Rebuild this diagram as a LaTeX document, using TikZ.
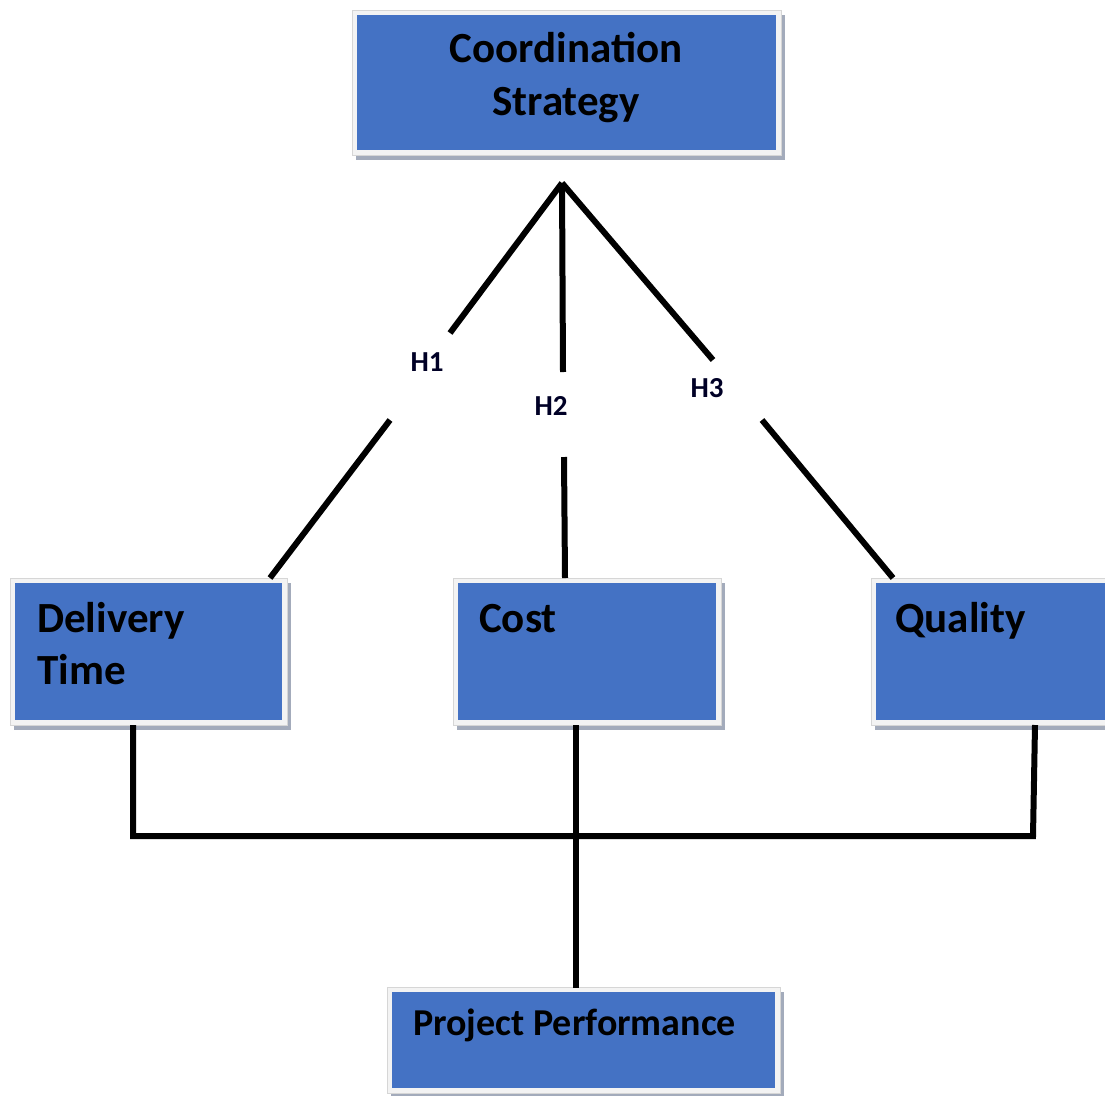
\documentclass[tikz,border=0pt]{standalone}
\usepackage{fontspec}
\setmainfont{Carlito}
\definecolor{boxblue}{HTML}{4472C4}
\definecolor{shadowgrey}{HTML}{A3ABBB}
\definecolor{framegrey}{HTML}{F3F3F3}
\definecolor{frameline}{HTML}{D6D6D6}
\newcommand\diagbox[5]{%
  \fill[shadowgrey] ({#2-5+4},{#3-5+5}) rectangle ({#4+5+4},{#5+5+5});
  \filldraw[fill=framegrey, draw=frameline, line width=1pt] ({#2-5},{#3-5}) rectangle ({#4+5},{#5+5});
  \node[bluebox, minimum width={(#4-#2)*1pt}, minimum height={(#5-#3)*1pt}] (#1) at ({(#2+#4)/2},{(#3+#5)/2}) {};
}
\begin{document}
\begin{tikzpicture}[x=1pt,y=-1pt,
  bluebox/.style={rectangle, fill=boxblue, draw=none, inner sep=0pt},
  bigtext/.style={font=\bfseries\fontsize{43}{43}\selectfont, inner sep=0pt},
  midtext/.style={font=\bfseries\fontsize{38}{38}\selectfont, inner sep=0pt},
  htext/.style={font=\bfseries\fontsize{29}{29}\selectfont, inner sep=0pt, text=black!85!blue},
  conn/.style={draw=black, line width=6pt}]
\useasboundingbox (0,0) rectangle (1105,1095);
\fill[white] (0,0) rectangle (1105,1095);
% boxes
\diagbox{cs}{357}{15}{776}{150}
\diagbox{dt}{15}{583}{282}{720}
\diagbox{co}{458}{583}{716}{720}
\diagbox{qu}{876}{583}{1110}{720}
\diagbox{pp}{392}{992}{775}{1088}
% texts
\node[bigtext, anchor=base] (cs1) at (566,62) {Coordination};
\node[bigtext, anchor=base] (cs2) at (566,115) {Strategy};
\node[bigtext, anchor=base west] (dt1) at (37,632) {Delivery};
\node[bigtext, anchor=base west] (dt2) at (37,684) {Time};
\node[bigtext, anchor=base west] (co1) at (479,632) {Cost};
\node[bigtext, anchor=base west] (qu1) at (895,632) {Quality};
\node[midtext, anchor=base west] (pp1) at (413,1035) {Project Performance};
% hypothesis labels
\node[htext] (h1) at (427,362) {H1};
\node[htext] (h2) at (551,406) {H2};
\node[htext] (h3) at (707,388) {H3};
% connector points
\coordinate (apex) at (562,183);
\coordinate (h1a) at (450,333);
\coordinate (h1b) at (390,420);
\coordinate (h2a) at (563,372);
\coordinate (h2b) at (564,457);
\coordinate (h3a) at (713,360);
\coordinate (h3b) at (762,420);
\coordinate (dtin) at (270,578);
\coordinate (coin) at (565,578);
\coordinate (quin) at (893,578);
\coordinate (dtout) at (133,725);
\coordinate (coout) at (576,725);
\coordinate (quout) at (1035,725);
\coordinate (ppin) at (576,988);
\coordinate (jl) at (133,836);
\coordinate (jr) at (1033,836);
% upper connectors
\draw[conn] (apex) -- (h1a);
\draw[conn] (h1b) -- (dtin);
\draw[conn] (apex) -- (h2a);
\draw[conn] (h2b) -- (coin);
\draw[conn] (apex) -- (h3a);
\draw[conn] (h3b) -- (quin);
% lower connectors
\draw[conn, line join=miter] (dtout) -- (jl) -- (jr) -- (quout);
\draw[conn] (coout) -- (ppin);
\end{tikzpicture}
\end{document}
